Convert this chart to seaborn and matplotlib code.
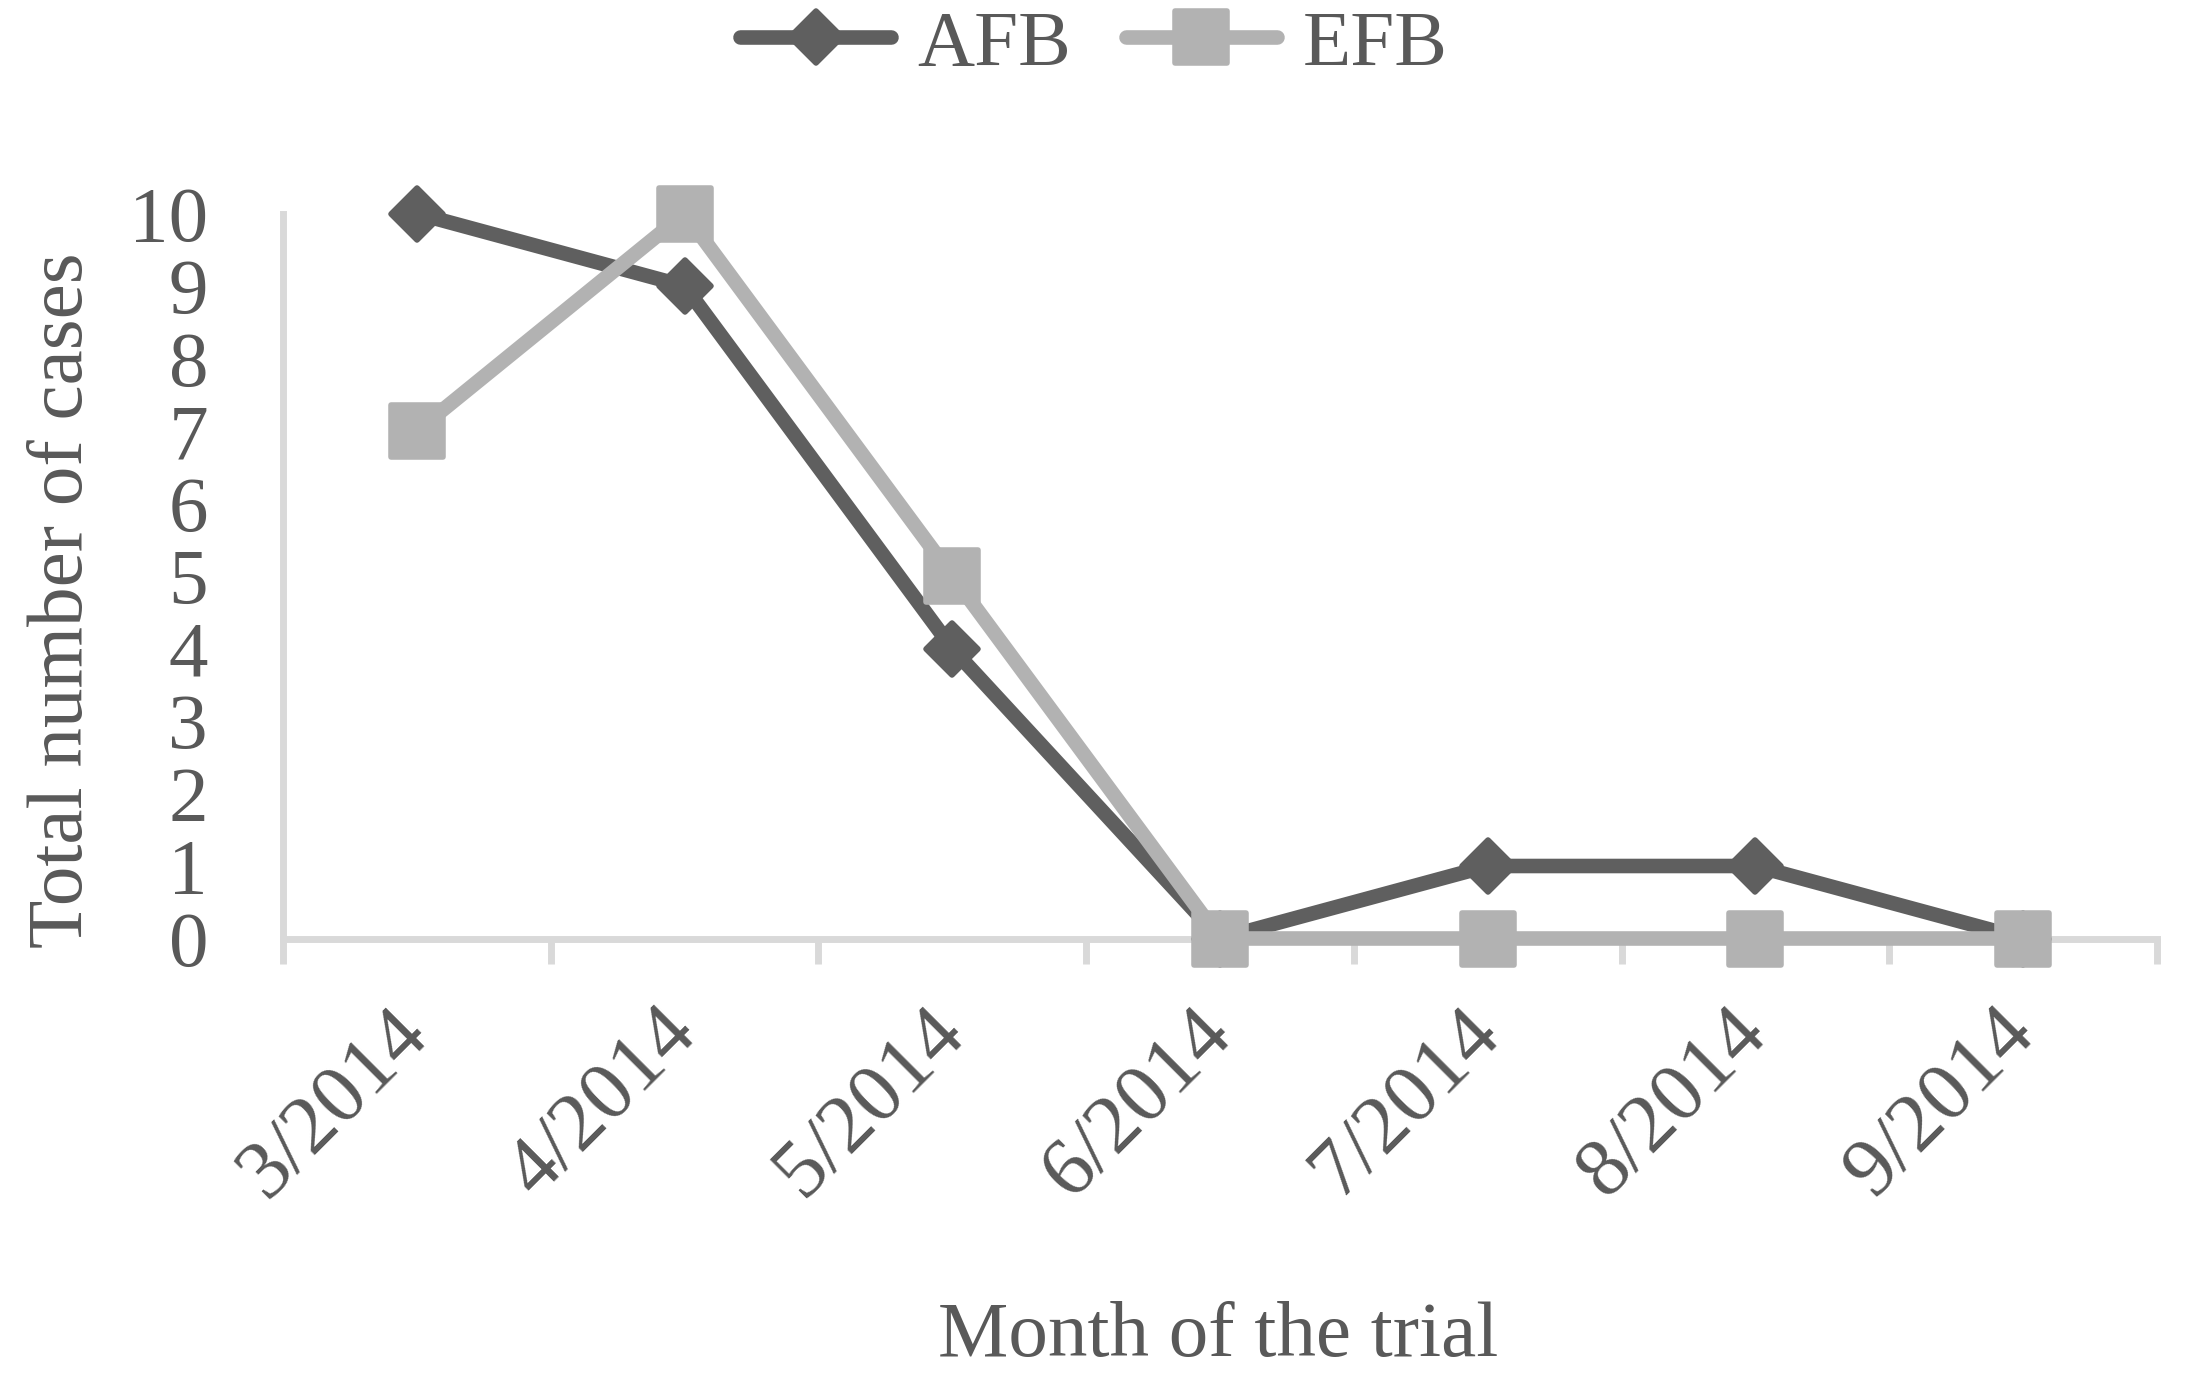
import matplotlib
matplotlib.use("Agg")
import matplotlib.pyplot as plt
from matplotlib.markers import MarkerStyle
import seaborn as sns

# chart data
months = ["3/2014", "4/2014", "5/2014", "6/2014", "7/2014", "8/2014", "9/2014"]
afb = [10, 9, 4, 0, 1, 1, 0]
efb = [7, 10, 5, 0, 0, 0, 0]

TEXT = "#595959"
AXIS = "#d9d9d9"
DARK = "#5f5f5f"
LIGHT = "#b2b2b2"
FS = 57

sns.set_style("white")
plt.rcParams["font.family"] = ["Liberation Serif", "DejaVu Serif"]

W, H = 2188, 1391
fig = plt.figure(figsize=(W / 100, H / 100), dpi=100)
ax = fig.add_axes([283 / W, 1 - 938.5 / H, (2157 - 283) / W, (938.5 - 213.5) / H])

pos = list(range(len(months)))
common = dict(linewidth=10.5, markeredgewidth=4, solid_capstyle="round",
              solid_joinstyle="round", ax=ax, sort=False)
sns.lineplot(x=pos, y=afb, color=DARK, label="AFB", markersize=26,
             marker=MarkerStyle("D", joinstyle="round"), markeredgecolor=DARK,
             **common)
sns.lineplot(x=pos, y=efb, color=LIGHT, label="EFB", markersize=37,
             marker=MarkerStyle("s", joinstyle="round"), markeredgecolor=LIGHT,
             **common)
for ln in ax.lines:
    ln.set_clip_on(False)

ax.set_xlim(-0.5, len(months) - 0.5)
ax.set_ylim(0, 10)

for side in ["top", "right"]:
    ax.spines[side].set_visible(False)
for side in ["left", "bottom"]:
    ax.spines[side].set_color(AXIS)
    ax.spines[side].set_linewidth(5)
    ax.spines[side].set_zorder(0.5)

ax.set_yticks(range(0, 11))
ax.set_xticks(pos)
# category boundary ticks, Excel style
ax.set_xticks([p - 0.5 for p in pos] + [len(months) - 0.5], minor=True)
ax.set_xticklabels(months, rotation=45, ha="right", va="center",
                   rotation_mode="anchor")
ax.tick_params(axis="x", which="major", length=0, pad=60, labelsize=FS + 3,
               labelcolor=TEXT)
ax.tick_params(axis="x", which="minor", bottom=True, length=18, width=5,
               color=AXIS, direction="out")
ax.tick_params(axis="y", length=0, pad=54, labelsize=FS, labelcolor=TEXT)
ax.grid(False)

ax.set_xlabel("")
ax.set_ylabel("")
fig.text(1218 / W, 1 - 1337 / H, "Month of the trial", ha="center",
         va="center", fontsize=FS, color=TEXT)
fig.text(63 / W, 1 - 600 / H, "Total number of cases", ha="center",
         va="center", rotation=90, fontsize=FS, color=TEXT)

ax.legend_.remove()
handles, labels = ax.get_legend_handles_labels()
fig.legend(handles, labels, loc="center", bbox_to_anchor=(0.5, 1 - 46 / H),
           ncol=2, frameon=False, fontsize=FS, labelcolor=TEXT,
           handlelength=1.9, handletextpad=0.33, columnspacing=0.7,
           borderaxespad=0)

fig.savefig("out.png", dpi=100)
